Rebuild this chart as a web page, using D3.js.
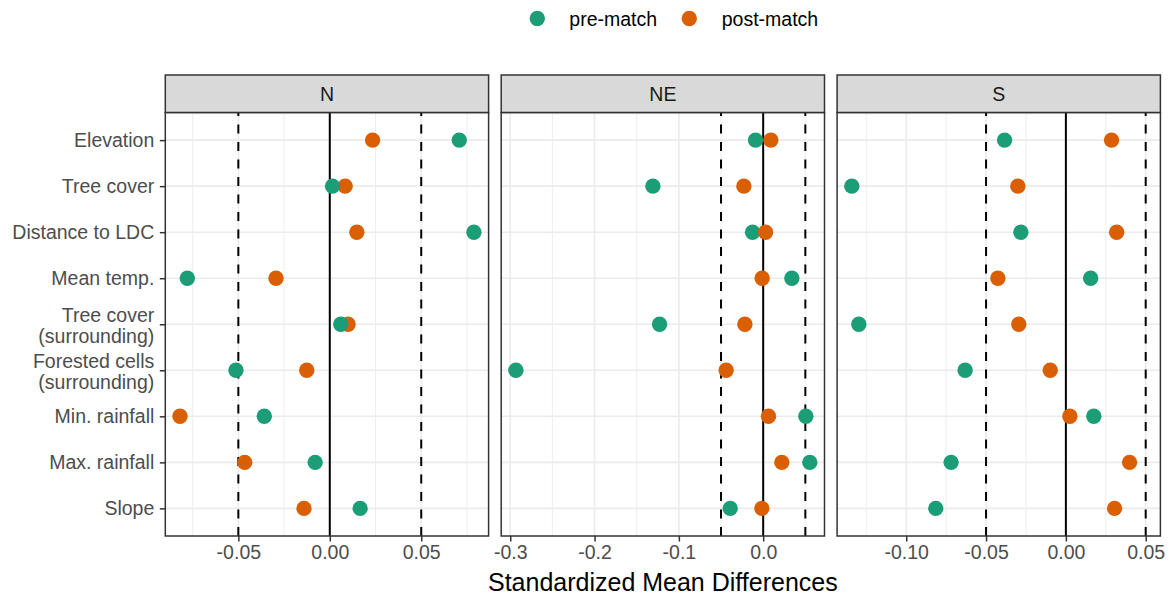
<!DOCTYPE html>
<html>
<head>
<meta charset="utf-8">
<script src="https://cdn.jsdelivr.net/npm/d3@7"></script>
<style>
  body { margin: 0; background: #fff; }
  svg { display: block; font-family: 'Liberation Sans', Arial, sans-serif; }
</style>
</head>
<body>
<div id="chart"></div>
<script>
// covariates, top to bottom
const covariates = [
  'Elevation',
  'Tree cover',
  'Distance to LDC',
  'Mean temp.',
  'Tree cover\n(surrounding)',
  'Forested cells\n(surrounding)',
  'Min. rainfall',
  'Max. rainfall',
  'Slope'
]

const regions = ['N', 'NE', 'S']
const groups = ['pre-match', 'post-match']

// standardized mean differences, same order as covariates
const preN = [0.0708, 0.0015, 0.0788, -0.0779, 0.0060, -0.0513, -0.0358, -0.0080, 0.0166]
const postN = [0.0234, 0.0084, 0.0148, -0.0294, 0.0100, -0.0126, -0.0819, -0.0465, -0.0141]
const preNE = [-0.0091, -0.1308, -0.0126, 0.0340, -0.1229, -0.2933, 0.0506, 0.0553, -0.0391]
const postNE = [0.0091, -0.0229, 0.0028, -0.0012, -0.0217, -0.0439, 0.0063, 0.0221, -0.0016]
const preS = [-0.0384, -0.1341, -0.0282, 0.0155, -0.1297, -0.0631, 0.0175, -0.0719, -0.0815]
const postS = [0.0286, -0.0301, 0.0318, -0.0426, -0.0295, -0.0098, 0.0025, 0.0399, 0.0305]

// x tick values per panel
const ticksN = [-0.05, 0, 0.05]
const ticksNE = [-0.3, -0.2, -0.1, 0]
const ticksS = [-0.1, -0.05, 0, 0.05]

const thresholds = [-0.05, 0.05]

const width = 1171
const height = 595
const colors = { 'pre-match': '#1B9E77', 'post-match': '#D95F02' }

const panels = [
  { name: regions[0], pre: preN, post: postN, ticks: ticksN, fmt: '.2f', top: 'pre-match' },
  { name: regions[1], pre: preNE, post: postNE, ticks: ticksNE, fmt: '.1f', top: 'post-match' },
  { name: regions[2], pre: preS, post: postS, ticks: ticksS, fmt: '.2f', top: 'post-match' }
]

const panelLeft = 165.3
const panelWidth = 323.3
const panelGap = 12.6
const stripTop = 75
const stripBottom = 112.5
const panelBottom = 536
const textSize = 19.5

let svg = null
let y = null

const createSVG = () => {
  svg = d3.select('#chart')
    .append('svg')
    .attr('width', width)
    .attr('height', height)
    .attr('viewBox', `0 0 ${width} ${height}`)

  y = d3.scalePoint()
    .domain(covariates)
    .range([stripBottom, panelBottom])
    .padding(0.6)
}

const fmtTick = f => v => d3.format(f)(v).replace('\u2212', '-')

const createPanel = (panel, i) => {
  const x0 = panelLeft + i * (panelWidth + panelGap)
  const values = panel.pre.concat(panel.post, thresholds, [0])
  const [lo, hi] = d3.extent(values)
  const pad = (hi - lo) * 0.05
  const x = d3.scaleLinear().domain([lo - pad, hi + pad]).range([x0, x0 + panelWidth])

  const g = svg.append('g').attr('class', `panel panel-${panel.name}`)

  // minor grid: midpoints between major ticks, one step beyond each end
  const step = panel.ticks[1] - panel.ticks[0]
  const minor = d3.range(panel.ticks.length + 1)
    .map(k => panel.ticks[0] + (k - 0.5) * step)
    .filter(v => v > x.domain()[0] && v < x.domain()[1])

  g.append('g')
    .selectAll('line')
    .data(minor)
    .join('line')
    .attr('x1', d => x(d))
    .attr('x2', d => x(d))
    .attr('y1', stripBottom)
    .attr('y2', panelBottom)
    .attr('stroke', '#EBEBEB')
    .attr('stroke-width', 0.9)

  g.append('g')
    .selectAll('line')
    .data(panel.ticks)
    .join('line')
    .attr('x1', d => x(d))
    .attr('x2', d => x(d))
    .attr('y1', stripBottom)
    .attr('y2', panelBottom)
    .attr('stroke', '#EBEBEB')
    .attr('stroke-width', 1.6)

  g.append('g')
    .selectAll('line')
    .data(covariates)
    .join('line')
    .attr('x1', x0)
    .attr('x2', x0 + panelWidth)
    .attr('y1', d => y(d))
    .attr('y2', d => y(d))
    .attr('stroke', '#EBEBEB')
    .attr('stroke-width', 1.6)

  // threshold and zero lines, drawn from the bottom up like ggplot
  g.append('g')
    .selectAll('line')
    .data(thresholds)
    .join('line')
    .attr('x1', d => x(d))
    .attr('x2', d => x(d))
    .attr('y1', panelBottom)
    .attr('y2', stripBottom)
    .attr('stroke', '#000')
    .attr('stroke-width', 2)
    .attr('stroke-dasharray', '9,8.5')

  g.append('line')
    .attr('x1', x(0))
    .attr('x2', x(0))
    .attr('y1', stripBottom)
    .attr('y2', panelBottom)
    .attr('stroke', '#000')
    .attr('stroke-width', 2)

  // points: the group listed in panel.top is drawn last
  const order = panel.top === 'pre-match' ? ['post-match', 'pre-match'] : ['pre-match', 'post-match']
  const points = order.flatMap(grp => {
    const vals = grp === 'pre-match' ? panel.pre : panel.post
    return covariates.map((c, k) => ({ covariate: c, group: grp, value: vals[k] }))
  })

  g.append('g')
    .selectAll('circle')
    .data(points)
    .join('circle')
    .attr('cx', d => x(d.value))
    .attr('cy', d => y(d.covariate))
    .attr('r', 7.7)
    .attr('fill', d => colors[d.group])

  // border and strip
  g.append('rect')
    .attr('x', x0)
    .attr('y', stripBottom)
    .attr('width', panelWidth)
    .attr('height', panelBottom - stripBottom)
    .attr('fill', 'none')
    .attr('stroke', '#333333')
    .attr('stroke-width', 1.5)

  g.append('rect')
    .attr('x', x0)
    .attr('y', stripTop)
    .attr('width', panelWidth)
    .attr('height', stripBottom - stripTop)
    .attr('fill', '#D9D9D9')
    .attr('stroke', '#333333')
    .attr('stroke-width', 1.5)

  g.append('text')
    .attr('x', x0 + panelWidth / 2)
    .attr('y', (stripTop + stripBottom) / 2 + 7)
    .attr('text-anchor', 'middle')
    .attr('font-size', textSize)
    .attr('fill', '#1A1A1A')
    .text(panel.name)

  // x axis
  const axis = g.append('g')
    .attr('transform', `translate(0, ${panelBottom})`)
    .call(d3.axisBottom(x).tickValues(panel.ticks).tickFormat(fmtTick(panel.fmt)).tickSize(5.5).tickPadding(4))

  axis.select('.domain').remove()
  axis.selectAll('.tick line').attr('stroke', '#333333').attr('stroke-width', 1.5)
  axis.selectAll('.tick text')
    .attr('font-size', textSize)
    .attr('font-family', null)
    .attr('fill', '#4D4D4D')
}

const createYAxis = () => {
  const axis = svg.append('g')
    .attr('transform', `translate(${panelLeft}, 0)`)
    .call(d3.axisLeft(y).tickSize(5.5).tickFormat(''))

  axis.select('.domain').remove()
  axis.selectAll('.tick line').attr('stroke', '#333333').attr('stroke-width', 1.5)

  const labels = svg.append('g')
    .attr('font-size', textSize)
    .attr('fill', '#4D4D4D')
    .attr('text-anchor', 'end')
    .selectAll('text')
    .data(covariates)
    .join('text')
    .attr('x', panelLeft - 11)
    .attr('y', d => y(d))

  labels.each(function (d) {
    const lines = d.split('\n')
    const t = d3.select(this)
    if (lines.length === 1) {
      t.append('tspan').attr('dy', 6.9).text(lines[0])
    } else {
      t.append('tspan').attr('x', panelLeft - 11).attr('dy', -1.8).text(lines[0])
      t.append('tspan').attr('x', panelLeft - 11).attr('dy', 20.8).text(lines[1])
    }
  })
}

const createTitle = () => {
  svg.append('text')
    .attr('x', (panelLeft + panelLeft + 3 * panelWidth + 2 * panelGap) / 2)
    .attr('y', 591)
    .attr('text-anchor', 'middle')
    .attr('font-size', 25)
    .attr('fill', '#000')
    .text('Standardized Mean Differences')
}

const createLegend = () => {
  const legend = svg.append('g').attr('class', 'legend')
  const items = [
    { group: groups[0], cx: 537.3, tx: 569.3 },
    { group: groups[1], cx: 689.3, tx: 721.7 }
  ]

  legend.selectAll('circle')
    .data(items)
    .join('circle')
    .attr('cx', d => d.cx)
    .attr('cy', 18.5)
    .attr('r', 7.7)
    .attr('fill', d => colors[d.group])

  legend.selectAll('text')
    .data(items)
    .join('text')
    .attr('x', d => d.tx)
    .attr('y', 25.5)
    .attr('font-size', textSize)
    .attr('fill', '#000')
    .text(d => d.group)
}

const init = () => {
  createSVG()
  panels.forEach(createPanel)
  createYAxis()
  createTitle()
  createLegend()
}

init()
</script>
</body>
</html>
